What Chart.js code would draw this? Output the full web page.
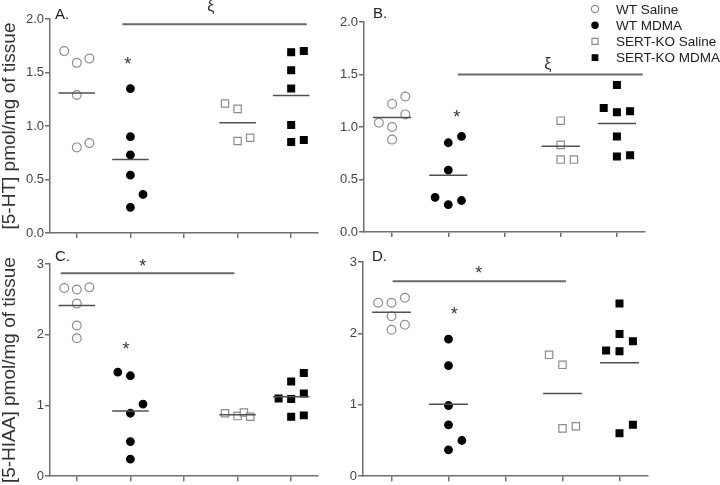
<!DOCTYPE html>
<html>
<head>
<meta charset="utf-8">
<script src="https://cdn.jsdelivr.net/npm/chart.js@4.4.0/dist/chart.umd.min.js"></script>
<style>
  html, body { margin: 0; padding: 0; background: #fff; }
  #wrap { position: relative; width: 720px; height: 485px; overflow: hidden; }
  canvas { position: absolute; }
</style>
</head>
<body>
<div id="wrap">
  <canvas id="chartA" width="360" height="245" style="left:0;top:0"></canvas>
  <canvas id="chartC" width="360" height="240" style="left:0;top:245px"></canvas>
  <canvas id="chartB" width="400" height="245" style="left:320px;top:0"></canvas>
  <canvas id="chartD" width="400" height="240" style="left:320px;top:245px"></canvas>
</div>
<script>
// groups and x positions (slot 3 is an empty gap)
const groups = ['WT Saline', 'WT MDMA', 'SERT-KO Saline', 'SERT-KO MDMA'];
const groupX = [1, 2, 4, 5];
const xTicks = [1, 2, 3, 4, 5];

// A. [5-HT]
const aWtSaline = [1.70, 1.59, 1.63, 1.29, 0.80, 0.84];
const aWtSalineCol = [-1, 0, 1, 0, 0, 1];
const aWtMdma = [1.35, 0.90, 0.73, 0.54, 0.36, 0.24];
const aWtMdmaCol = [0, 0, 0, 0, 1, 0];
const aKoSaline = [1.21, 1.16, 0.86, 0.89];
const aKoSalineCol = [-1, 0, 0, 1];
const aKoMdma = [1.69, 1.70, 1.52, 1.35, 1.01, 0.85, 0.87];
const aKoMdmaCol = [0, 1, 0, 0, 0, 0, 1];

// B. [5-HT]
const bWtSaline = [1.29, 1.22, 1.12, 1.04, 1.00, 0.88];
const bWtSalineCol = [1, 0, 1, -1, 0, 0];
const bWtMdma = [0.91, 0.85, 0.59, 0.33, 0.26, 0.30];
const bWtMdmaCol = [1, 0, 0, -1, 0, 1];
const bKoSaline = [1.06, 0.83, 0.69, 0.69];
const bKoSalineCol = [0, 0, 0, 1];
const bKoMdma = [1.40, 1.18, 1.14, 1.15, 0.91, 0.72, 0.73];
const bKoMdmaCol = [0, -1, 0, 1, 0, 0, 1];

// C. [5-HIAA]
const cWtSaline = [2.66, 2.64, 2.67, 2.44, 2.13, 1.95];
const cWtSalineCol = [-1, 0, 1, 0, 0, 0];
const cWtMdma = [1.47, 1.42, 1.02, 0.89, 0.49, 0.24];
const cWtMdmaCol = [-1, 0, 1, 0, 0, 0];
const cKoSaline = [0.89, 0.85, 0.90, 0.84];
const cKoSalineCol = [-1, 0, 0.5, 1];
const cKoMdma = [1.46, 1.34, 1.17, 1.10, 1.09, 0.84, 0.86];
const cKoMdmaCol = [1, 0, 1, -1, 0, 0, 1];

// D. [5-HIAA]
const dWtSaline = [2.43, 2.43, 2.50, 2.24, 2.05, 2.12];
const dWtSalineCol = [-1, 0, 1, 0, 0, 1];
const dWtMdma = [1.92, 1.55, 0.99, 0.72, 0.50, 0.37];
const dWtMdmaCol = [0, 0, 0, 0, 1, 0];
const dKoSaline = [1.70, 1.56, 0.67, 0.70];
const dKoSalineCol = [-1, 0, 0, 1];
const dKoMdma = [2.42, 1.99, 1.89, 1.76, 1.75, 0.72, 0.60];
const dKoMdmaCol = [0, 0, 1, -1, 0, 1, 0];

// y tick labels
const ticks5HT = ['0.0', '0.5', '1.0', '1.5', '2.0'];
const ticks5HIAA = ['0', '1', '2', '3'];

const fontFamily = '"Liberation Sans", Arial, Helvetica, sans-serif';
Chart.defaults.font.family = fontFamily;
Chart.defaults.color = '#444';

const openColor = '#8c8c8c';
const axisColor = '#707070';
const jitter = 0.235;
const meanHalf = 0.34;

const groupStyle = [
  { pointStyle: 'circle', radius: 4.4, fill: '#fff', stroke: openColor },
  { pointStyle: 'circle', radius: 3.8, fill: '#000', stroke: '#000' },
  { pointStyle: 'rect', radius: 5.2, fill: '#fff', stroke: openColor },
  { pointStyle: 'rect', radius: 4.8, fill: '#000', stroke: '#000' }
];

// text marks, lines and the legend that Chart.js has no built-in for
const panelMarks = {
  id: 'panelMarks',
  afterDraw(chart, args, opts) {
    const { ctx, chartArea, scales } = chart;
    ctx.save();
    ctx.fillStyle = '#222';
    ctx.font = '15px ' + fontFamily;
    ctx.textAlign = 'left';
    ctx.textBaseline = 'alphabetic';
    ctx.fillText(opts.letter, chartArea.left + opts.letterDx, chartArea.top + opts.letterDy);

    opts.marks.forEach(m => {
      ctx.font = m.size + 'px ' + fontFamily;
      const tm = ctx.measureText(m.text);
      const px = scales.x.getPixelForValue(m.x);
      const py = scales.y.getPixelForValue(m.y);
      ctx.textAlign = 'center';
      ctx.fillStyle = '#333';
      ctx.fillText(m.text, px, py + (tm.actualBoundingBoxAscent - tm.actualBoundingBoxDescent) / 2);
    });

    if (opts.legend) {
      const lg = opts.legend;
      chart.data.datasets.slice(0, groups.length).forEach((ds, i) => {
        const y = lg.y + i * lg.gap;
        ctx.fillStyle = ds.pointBackgroundColor;
        ctx.strokeStyle = ds.pointBorderColor;
        ctx.lineWidth = ds.pointBorderWidth;
        Chart.helpers.drawPoint(ctx, {
          pointStyle: ds.pointStyle,
          radius: ds.pointRadius * 0.82,
          borderWidth: ds.pointBorderWidth
        }, lg.x, y);
        ctx.fillStyle = '#222';
        ctx.font = '13.5px ' + fontFamily;
        ctx.textAlign = 'left';
        ctx.textBaseline = 'middle';
        ctx.fillText(ds.label, lg.x + lg.textGap, y + 1);
      });
    }
    ctx.restore();
  }
};

function buildPanel(id, p) {
  const datasets = [];
  p.values.forEach((vals, g) => {
    const st = groupStyle[g];
    datasets.push({
      label: groups[g],
      data: vals.map((v, i) => ({ x: groupX[g] + p.cols[g][i] * jitter, y: v })),
      pointStyle: st.pointStyle,
      pointRadius: st.radius,
      pointBackgroundColor: st.fill,
      pointBorderColor: st.stroke,
      pointBorderWidth: 1.2,
      showLine: false,
      clip: false
    });
  });
  p.values.forEach((vals, g) => {
    const m = vals.reduce((a, b) => a + b, 0) / vals.length;
    datasets.push({
      label: groups[g] + ' mean',
      data: [{ x: groupX[g] - meanHalf, y: m }, { x: groupX[g] + meanHalf, y: m }],
      showLine: true,
      pointRadius: 0,
      borderColor: '#505050',
      borderWidth: 1.5,
      order: -1,
      clip: false
    });
  });
  datasets.push({
    label: 'significance',
    data: [{ x: p.bar.from, y: p.bar.y }, { x: p.bar.to, y: p.bar.y }],
    showLine: true,
    pointRadius: 0,
    borderColor: '#6a6a6a',
    borderWidth: 2,
    clip: false
  });

  const gridOpts = { drawOnChartArea: false, drawTicks: true, tickLength: 5, color: axisColor, lineWidth: 1.5 };
  const borderOpts = { color: axisColor, width: 1.5 };

  return new Chart(document.getElementById(id), {
    type: 'scatter',
    data: { datasets },
    options: {
      responsive: false,
      animation: false,
      events: [],
      layout: { padding: p.padding },
      plugins: {
        legend: { display: false },
        tooltip: { enabled: false },
        panelMarks: { letter: p.letter, letterDx: p.letterDx, letterDy: p.letterDy, marks: p.marks, legend: p.legend || null }
      },
      scales: {
        x: {
          type: 'linear',
          min: 0.5,
          max: 5.5,
          afterBuildTicks: s => { s.ticks = xTicks.map(v => ({ value: v })); },
          afterFit: s => { s.height = p.xHeight; },
          ticks: { callback: () => '' },
          grid: gridOpts,
          border: borderOpts
        },
        y: {
          min: 0,
          max: (p.yTicks.length - 1) * p.yStep,
          afterBuildTicks: s => { s.ticks = p.yTicks.map((t, i) => ({ value: i * p.yStep })); },
          afterFit: s => { s.width = p.yWidth; },
          ticks: { callback: (v, i) => p.yTicks[i], color: '#444', font: { size: 13 }, padding: 1 },
          grid: gridOpts,
          border: borderOpts,
          title: {
            display: !!p.yTitle,
            text: p.yTitle || '',
            color: '#333',
            font: { size: 19, lineHeight: 1 },
            padding: { top: 0, bottom: 0 }
          }
        }
      }
    },
    plugins: [panelMarks]
  });
}

buildPanel('chartA', {
  values: [aWtSaline, aWtMdma, aKoSaline, aKoMdma],
  cols: [aWtSalineCol, aWtMdmaCol, aKoSalineCol, aKoMdmaCol],
  yTicks: ticks5HT, yStep: 0.5,
  yTitle: '[5-HT] pmol/mg of tissue',
  bar: { from: 1.85, to: 5.29, y: 1.95 },
  marks: [{ text: 'ξ', x: 3.5, y: 2.11, size: 16 }, { text: '*', x: 1.95, y: 1.61, size: 18 }],
  letter: 'A.', letterDx: 5, letterDy: 0,
  padding: { left: 0, top: 19, right: 42, bottom: 0 }, yWidth: 50, xHeight: 12
});

buildPanel('chartB', {
  values: [bWtSaline, bWtMdma, bKoSaline, bKoMdma],
  cols: [bWtSalineCol, bWtMdmaCol, bKoSalineCol, bKoMdmaCol],
  yTicks: ticks5HT, yStep: 0.5,
  yTitle: null,
  bar: { from: 2.17, to: 5.46, y: 1.50 },
  marks: [{ text: 'ξ', x: 3.77, y: 1.59, size: 16 }, { text: '*', x: 2.15, y: 1.13, size: 18 }],
  letter: 'B.', letterDx: 9, letterDy: -4,
  legend: { x: 275, y: 9, gap: 16.2, textGap: 21 },
  padding: { left: 0, top: 22, right: 75, bottom: 0 }, yWidth: 44, xHeight: 13
});

buildPanel('chartC', {
  values: [cWtSaline, cWtMdma, cKoSaline, cKoMdma],
  cols: [cWtSalineCol, cWtMdmaCol, cKoSalineCol, cKoMdmaCol],
  yTicks: ticks5HIAA, yStep: 1,
  yTitle: '[5-HIAA] pmol/mg of tissue',
  bar: { from: 0.70, to: 3.94, y: 2.87 },
  marks: [{ text: '*', x: 2.23, y: 3.02, size: 18 }, { text: '*', x: 1.92, y: 1.85, size: 18 }],
  letter: 'C.', letterDx: 5, letterDy: -3,
  padding: { left: 0, top: 19, right: 42, bottom: 0 }, yWidth: 50, xHeight: 7
});

buildPanel('chartD', {
  values: [dWtSaline, dWtMdma, dKoSaline, dKoMdma],
  cols: [dWtSalineCol, dWtMdmaCol, dKoSalineCol, dKoMdmaCol],
  yTicks: ticks5HIAA, yStep: 1,
  yTitle: null,
  bar: { from: 1.02, to: 4.06, y: 2.73 },
  marks: [{ text: '*', x: 2.53, y: 2.89, size: 18 }, { text: '*', x: 2.10, y: 2.32, size: 18 }],
  letter: 'D.', letterDx: 9, letterDy: -1,
  padding: { left: 0, top: 17, right: 72, bottom: 0 }, yWidth: 43, xHeight: 8
});
</script>
</body>
</html>
